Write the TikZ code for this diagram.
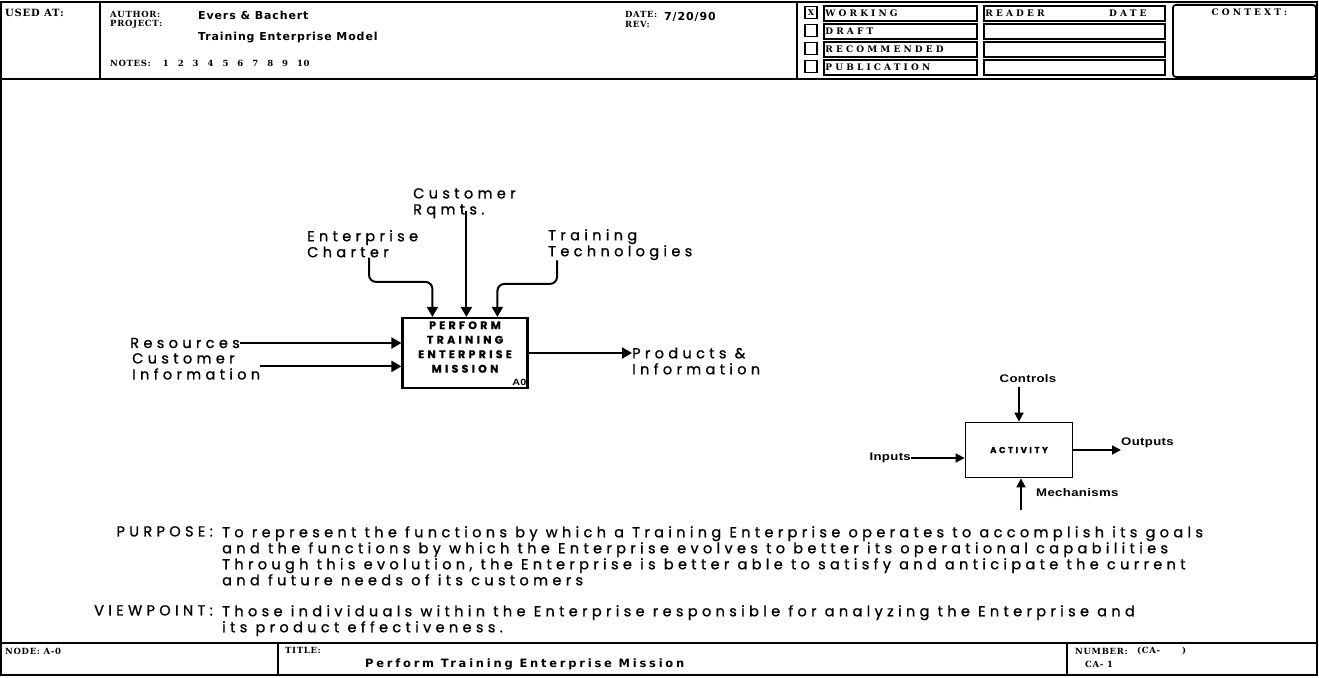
\documentclass[tikz,border=0pt]{standalone}
\usepackage{fontspec}
\setmainfont{Liberation Sans}
\newfontfamily\lblfont[LetterSpace=30, FakeBold=1]{Poppins}
\newfontfamily\formfont[LetterSpace=8]{DejaVu Serif}
\newfontfamily\cellfont[LetterSpace=35]{DejaVu Serif}
\newfontfamily\headfont[LetterSpace=8]{DejaVu Sans}
\newfontfamily\titlefont[LetterSpace=24]{DejaVu Sans}
\newfontfamily\keyfont[FakeStretch=1.2, LetterSpace=3]{Liberation Sans}
\usetikzlibrary{calc,arrows.meta,positioning}

\begin{document}
\begin{tikzpicture}[x=1pt, y=-1pt,
 frame/.style={line width=1.4pt},
 form/.style={font=\formfont\bfseries\fontsize{8.5}{9.5}\selectfont, inner sep=0pt},
 head/.style={font=\headfont\bfseries\fontsize{11}{12}\selectfont, inner sep=0pt},
 cell/.style={draw, line width=1.8pt, anchor=north west, minimum height=15pt,
   inner sep=1.5pt, text depth=0pt, align=left,
   font=\cellfont\bfseries\fontsize{9}{10}\selectfont},
 chk/.style={draw, line width=1.5pt, minimum size=12pt, inner sep=0pt,
   font=\formfont\bfseries\fontsize{8}{8}\selectfont},
 lbl/.style={font=\lblfont\fontsize{14.5}{16}\selectfont, inner sep=0pt, align=left},
 box/.style={draw, line width=2.2pt, minimum width=125pt, minimum height=70pt, inner sep=0pt},
 boxtxt/.style={font=\lblfont\bfseries\fontsize{11}{14.5}\selectfont, inner sep=0pt, align=center},
 arr/.style={-{Triangle[length=10pt, width=11pt]}, line width=2pt},
 arrk/.style={-{Triangle[length=9pt, width=9pt]}, line width=1.8pt},
 key/.style={font=\keyfont\bfseries\fontsize{11}{12}\selectfont, inner sep=0pt}
]
\useasboundingbox (0,0) rectangle (1319,677);

% Form frame
\draw[frame] (1,2) rectangle (1317,675);
\draw[frame] (1,79) -- (1317,79);
\draw[frame] (1,643) -- (1317,643);
\draw[frame] (100,2) -- (100,79);
\draw[frame] (797,2) -- (797,79);
\draw[frame] (278,643) -- (278,675);
\draw[frame] (1067,643) -- (1067,675);

% Header
\node[form, anchor=west, font=\formfont\bfseries\fontsize{10}{11}\selectfont] (usedat) at (5,13) {USED AT:};
\node[form, anchor=west] (author) at (110,14) {AUTHOR:};
\node[form, anchor=west] (project) at (110,24) {PROJECT:};
\node[head, anchor=west] (evers) at (198,15) {Evers \& Bachert};
\node[head, anchor=west] (tem) at (198,38) {Training Enterprise Model};
\node[form, anchor=west] (notes) at (110,63) {NOTES:\hspace{12pt}1\hspace{9pt}2\hspace{9pt}3\hspace{9pt}4\hspace{9pt}5\hspace{9pt}6\hspace{9pt}7\hspace{9pt}8\hspace{9pt}9\hspace{9pt}10};
\node[form, anchor=west] (date) at (625,14) {DATE:};
\node[form, anchor=west] (rev) at (625,24) {REV:};
\node[head, anchor=west] (dval) at (664,17) {7/20/90};

% Status cells
\node[chk] (chk1) at (811,12.5) {X};
\node[chk] (chk2) at (811,30.5) {};
\node[chk] (chk3) at (811,48.5) {};
\node[chk] (chk4) at (811,66.5) {};
\node[cell, text width=150pt] (wrk) at (823,5) {WORKING};
\node[cell, text width=150pt] (drf) at (823,23) {DRAFT};
\node[cell, text width=150pt] (rec) at (823,41) {RECOMMENDED};
\node[cell, text width=150pt] (pub) at (823,59) {PUBLICATION};
\node[cell, text width=178pt] (rdr) at (983,5) {READER};
\node[cell, text width=178pt] (rd2) at (983,23) {};
\node[cell, text width=178pt] (rd3) at (983,41) {};
\node[cell, text width=178pt] (rd4) at (983,59) {};
\node[anchor=west, inner sep=0pt, font=\cellfont\bfseries\fontsize{9}{10}\selectfont] (rdate) at ([xshift=126pt]rdr.west) {DATE};

% Context
\node[cell, rounded corners=3pt, minimum width=143pt, minimum height=72pt] (ctx) at (1172,4) {};
\node[anchor=north, inner sep=0pt, font=\cellfont\bfseries\fontsize{9}{10}\selectfont] (ctxl) at ([xshift=5pt, yshift=-5pt]ctx.north) {CONTEXT:};

% Activity box
\node[box] (main) at (465,353) {};
\node[boxtxt] (mtxt) at ([yshift=6pt]main.center) {PERFORM\\TRAINING\\ENTERPRISE\\MISSION};
\node[key, font=\keyfont\bfseries\fontsize{9}{10}\selectfont, anchor=south east] (a0) at ([xshift=-2pt, yshift=3pt]main.south east) {A0};

\coordinate (ctl1) at ($(main.north west)+(31,0)$);
\coordinate (ctl2) at ($(main.north west)+(65,0)$);
\coordinate (ctl3) at ($(main.north west)+(96,0)$);

% Controls
\node[lbl, anchor=north west] (crq) at (413,188) {Customer\\Rqmts.};
\node[lbl, anchor=north west] (ech) at (307,230) {Enterprise\\Charter};
\node[lbl, anchor=north west] (ttc) at (548,229) {Training\\Technologies};
\draw[arr] ([yshift=7pt]crq.south -| ctl2) -- (ctl2);
\draw[arr, rounded corners=7pt] ([xshift=62pt]ech.south west) |- ($(ctl1)+(0,-35)$) -- (ctl1);
\draw[arr, rounded corners=7pt] ([xshift=9pt]ttc.south west) |- ($(ctl3)+(0,-33)$) -- (ctl3);

% Inputs
\node[lbl, anchor=east] (res) at (240,343) {Resources};
\node[lbl, anchor=north west] (cin) at (132,353) {Customer\\Information};
\draw[arr] (res.east) -- (res.east -| main.west);
\draw[arr] (cin.east) -- (cin.east -| main.west);

% Output
\node[lbl, anchor=west] (pin) at (632,361) {Products \&\\Information};
\draw[arr] (main.east) -- (main.east -| pin.west);

% Legend
\node[box, line width=1.8pt, minimum width=107pt, minimum height=55pt] (act) at (1019,450) {};
\node[boxtxt, font=\lblfont\bfseries\fontsize{8.5}{10}\selectfont] (acttxt) at (act.center) {ACTIVITY};
\node[key] (kctl) at (1028,379) {Controls};
\node[key, anchor=east] (kin) at (911,458) {Inputs};
\node[key, anchor=west] (kout) at (1121,443) {Outputs};
\node[key, anchor=west] (kmec) at (1036,493) {Mechanisms};
\coordinate (kmb) at (1021,510);
\draw[arrk] ([yshift=-4pt]kctl.south -| act.north) -- (act.north);
\draw[arrk] (kin.east) -- (kin.east -| act.west);
\draw[arrk] (act.east) -- (act.east -| kout.west);
\draw[arrk] (kmb) -- (kmb |- act.south);

% Purpose and viewpoint
\node[lbl, anchor=north east] (purl) at (213,526) {PURPOSE:};
\node[lbl, anchor=north west] (purt) at (222,526) {To represent the functions by which a Training Enterprise operates to accomplish its goals\\
and the functions by which the Enterprise evolves to better its operational capabilities\\
Through this evolution, the Enterprise is better able to satisfy and anticipate the current\\
and future needs of its customers};
\node[lbl, anchor=north east] (vpl) at (213,605) {VIEWPOINT:};
\node[lbl, anchor=north west] (vpt) at (222,605) {Those individuals within the Enterprise responsible for analyzing the Enterprise and\\
its product effectiveness.};

% Footer
\node[form, anchor=west] (node) at (5,651) {NODE:\ A-0};
\node[form, anchor=west] (title) at (285,650) {TITLE:};
\node[font=\titlefont\bfseries\fontsize{11.5}{13}\selectfont, inner sep=0pt, anchor=west] (ttl) at (365,664) {Perform Training Enterprise Mission};
\node[form, anchor=west] (num) at (1075,651) {NUMBER:};
\node[form, anchor=west] (numv) at (1137,651) {(CA-\hspace{22pt})};
\node[form, anchor=west] (numw) at (1085,664) {CA-\ 1};
\end{tikzpicture}
\end{document}
